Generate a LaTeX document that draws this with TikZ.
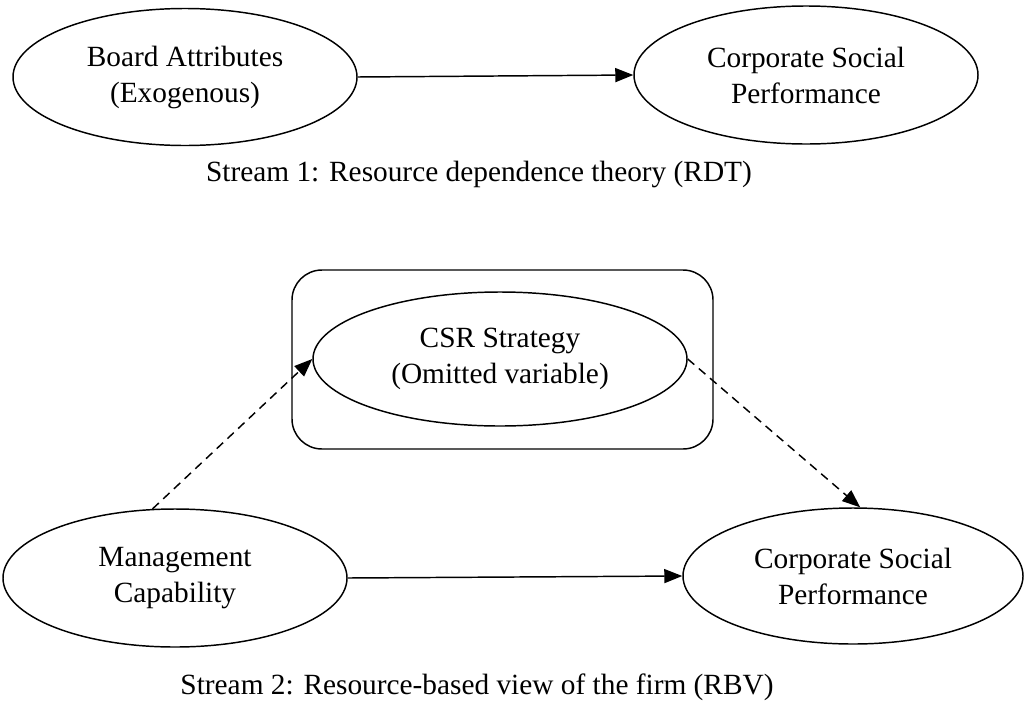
\documentclass[tikz,border=0pt]{standalone}
\usepackage{fontspec}
\setmainfont{Liberation Serif}
\usetikzlibrary{shapes.geometric,arrows.meta}
\begin{document}
\begin{tikzpicture}[x=0.75pt,y=-0.75pt,
  line width=1.1pt,
  every node/.style={font=\fontsize{22pt}{27pt}\selectfont},
  oval/.style={draw,ellipse,inner sep=0pt,align=center},
  arr/.style={-{Triangle[length=13.5pt,width=10.5pt]}},
  dasharr/.style={arr,dash pattern=on 6.5pt off 4.5pt}]
\useasboundingbox (0,0) rectangle (1034,707);
% Stream 1
\node[oval,minimum width=258pt,minimum height=102.75pt] (board) at (185,77) {Board Attributes\\(Exogenous)};
\node[oval,minimum width=258pt,minimum height=103.5pt] (csp1) at (806,75) {Corporate Social\\Performance};
\draw[arr] (board.east) -- (csp1.west);
\node[anchor=base] (cap1) at (479,181) {Stream 1: Resource dependence theory (RDT)};
% Stream 2
\node[draw,rounded corners=22.5pt,minimum width=315.75pt,minimum height=134.25pt,inner sep=0pt] (box) at (502.5,359.5) {};
\node[oval,minimum width=280.5pt,minimum height=100.5pt] (csr) at (500,359) {CSR Strategy\\(Omitted variable)};
\node[oval,minimum width=258pt,minimum height=103.5pt] (mgmt) at (175,578) {Management\\Capability};
\node[oval,minimum width=255pt,minimum height=102pt] (csp2) at (853,576) {Corporate Social\\Performance};
\draw[arr] (mgmt.east) -- (csp2.west);
\draw[dasharr] (mgmt.108) -- (csr.west);
\draw[dasharr] (csr.east) -- (csp2.84);
\node[anchor=base] (cap2) at (477,694) {Stream 2: Resource-based view of the firm (RBV)};
\end{tikzpicture}
\end{document}
